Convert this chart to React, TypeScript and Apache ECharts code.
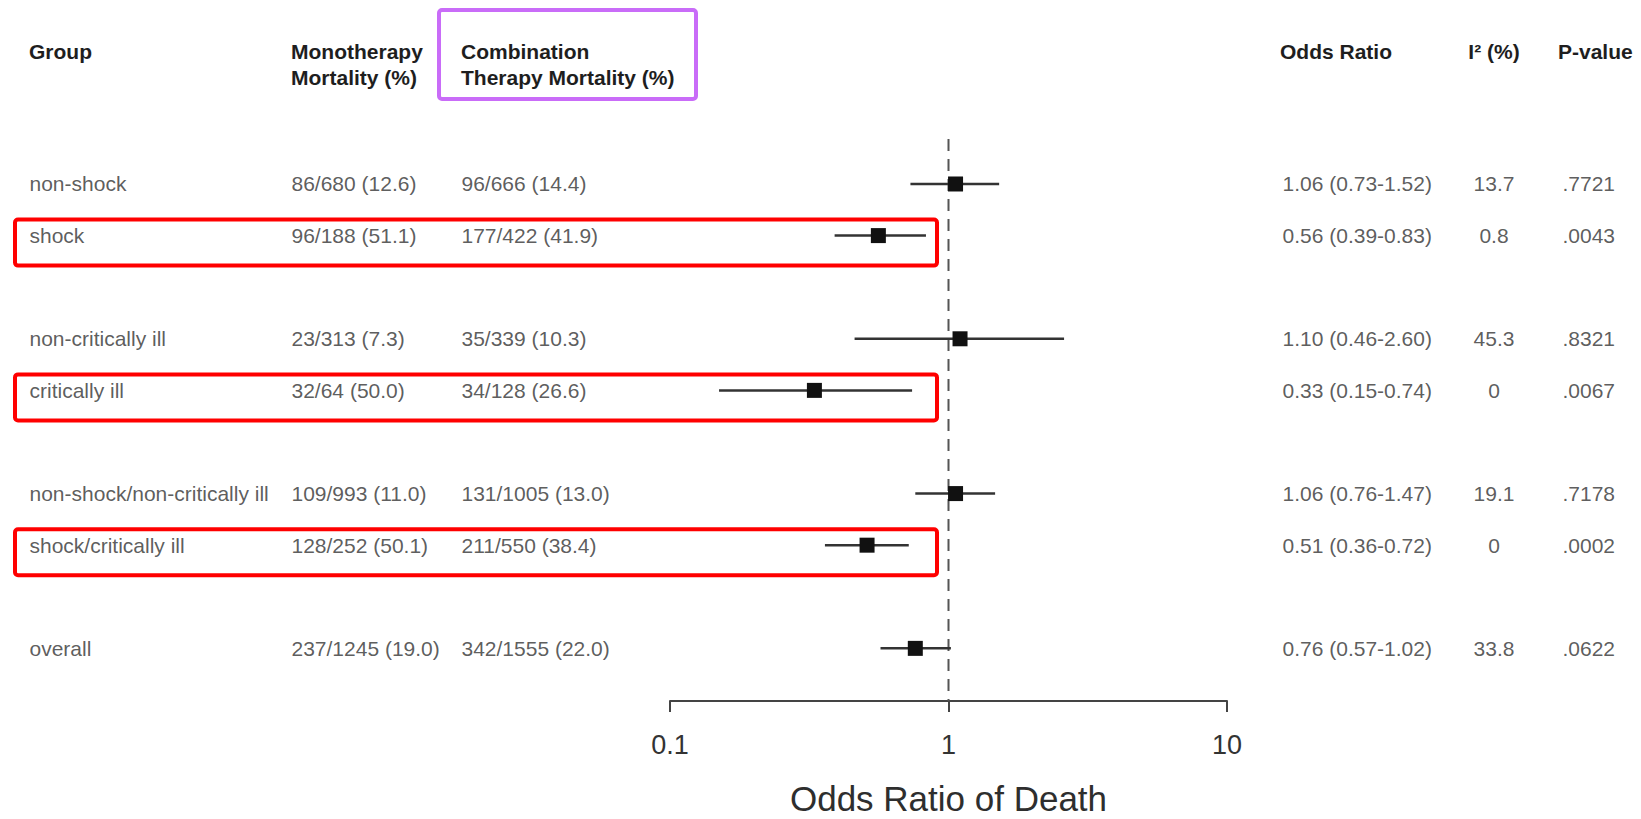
import React, { useEffect, useRef } from "react";
import * as echarts from "echarts";

// ---- data ----
const groups = [
  "non-shock",
  "shock",
  "non-critically ill",
  "critically ill",
  "non-shock/non-critically ill",
  "shock/critically ill",
  "overall",
];
const rowIndex = [0, 1, 3, 4, 6, 7, 9];
const monotherapy = [
  "86/680 (12.6)",
  "96/188 (51.1)",
  "23/313 (7.3)",
  "32/64 (50.0)",
  "109/993 (11.0)",
  "128/252 (50.1)",
  "237/1245 (19.0)",
];
const combination = [
  "96/666 (14.4)",
  "177/422 (41.9)",
  "35/339 (10.3)",
  "34/128 (26.6)",
  "131/1005 (13.0)",
  "211/550 (38.4)",
  "342/1555 (22.0)",
];
const oddsRatio = [1.06, 0.56, 1.1, 0.33, 1.06, 0.51, 0.76];
const ciLow = [0.73, 0.39, 0.46, 0.15, 0.76, 0.36, 0.57];
const ciHigh = [1.52, 0.83, 2.6, 0.74, 1.47, 0.72, 1.02];
const iSquared = ["13.7", "0.8", "45.3", "0", "19.1", "0", "33.8"];
const pValues = [".7721", ".0043", ".8321", ".0067", ".7178", ".0002", ".0622"];
const highlighted = [false, true, false, true, false, true, false];
const xTickLabels = [0.1, 1, 10];

const FONT = '"Liberation Sans", Arial, Helvetica, sans-serif';
const Y_MIN = -0.872;
const Y_MAX = 10.02;

function fmt(v: number) {
  return v.toFixed(2);
}

export default function App() {
  const ref = useRef<HTMLDivElement>(null);

  useEffect(() => {
    document.body.style.margin = "0";
    const chart = echarts.init(ref.current!, null, { renderer: "svg" });

    const textSeries = (x: number, texts: string[], align: "left" | "center") => ({
      type: "scatter",
      xAxisIndex: 1,
      yAxisIndex: 1,
      symbolSize: 1,
      silent: true,
      itemStyle: { color: "transparent" },
      data: rowIndex.map((k, i) => [x, k, texts[i]]),
      label: {
        show: true,
        position: align === "left" ? "right" : "inside",
        distance: 0,
        formatter: (p: any) => p.data[2],
        fontFamily: FONT,
        fontSize: 21,
        color: "#333",
      },
      z: 4,
    });

    const orTexts = oddsRatio.map(
      (v, i) => `${fmt(v)} (${fmt(ciLow[i])}-${fmt(ciHigh[i])})`
    );

    const headerStyle = {
      fontFamily: FONT,
      fontSize: 21,
      fontWeight: "bold",
      fill: "#1e1e1e",
    };
    const header = (x: number, y: number, text: string, align = "left") => ({
      type: "text",
      x,
      y,
      style: { ...headerStyle, text, align, verticalAlign: "middle" },
      silent: true,
    });

    chart.setOption({
      animation: false,
      backgroundColor: "#ffffff",
      grid: [
        { left: 670, right: 414, top: 139, bottom: 118, outerBoundsMode: "none", containLabel: false },
        { left: 0, right: 0, top: 139, bottom: 118, outerBoundsMode: "none", containLabel: false },
      ],
      xAxis: [
        {
          type: "log",
          logBase: 10,
          min: 0.1,
          max: 10,
          gridIndex: 0,
          position: "bottom",
          name: "Odds Ratio of Death",
          nameLocation: "middle",
          nameGap: 80,
          nameTextStyle: { fontFamily: FONT, fontSize: 35, color: "#2e2e2e" },
          axisLine: { show: true, onZero: false, lineStyle: { color: "#444", width: 2 } },
          axisTick: { show: true, inside: false, length: 11, lineStyle: { color: "#444", width: 2 } },
          axisLabel: {
            margin: 30,
            fontFamily: FONT,
            fontSize: 27,
            color: "#333",
            formatter: (v: number) => {
              const m = xTickLabels.find((t) => Math.abs(t - v) < 1e-9);
              return m === undefined ? "" : String(m);
            },
          },
          splitLine: { show: false },
        },
        {
          type: "value",
          gridIndex: 1,
          min: 0,
          max: 1641,
          show: false,
        },
      ],
      yAxis: [
        { type: "value", gridIndex: 0, min: Y_MIN, max: Y_MAX, inverse: true, show: false },
        { type: "value", gridIndex: 1, min: Y_MIN, max: Y_MAX, inverse: true, show: false },
      ],
      series: [
        {
          type: "line",
          xAxisIndex: 0,
          yAxisIndex: 0,
          symbol: "none",
          silent: true,
          data: [
            [1, Y_MIN],
            [1, Y_MAX],
          ],
          lineStyle: { color: "#555", width: 2, type: [12, 8] },
          z: 1,
        },
        {
          type: "custom",
          xAxisIndex: 0,
          yAxisIndex: 0,
          silent: true,
          encode: { x: [0, 1, 2], y: 3 },
          data: rowIndex.map((k, i) => [oddsRatio[i], ciLow[i], ciHigh[i], k]),
          renderItem: (params: any, api: any) => {
            const y = api.value(3);
            const lo = api.coord([api.value(1), y]);
            const hi = api.coord([api.value(2), y]);
            const c = api.coord([api.value(0), y]);
            const s = 15;
            return {
              type: "group",
              children: [
                {
                  type: "line",
                  shape: { x1: lo[0], y1: lo[1], x2: hi[0], y2: hi[1] },
                  style: { stroke: "#333", lineWidth: 2.5 },
                },
                {
                  type: "rect",
                  shape: { x: c[0] - s / 2, y: c[1] - s / 2, width: s, height: s },
                  style: { fill: "#111" },
                },
              ],
            };
          },
          z: 3,
        },
        textSeries(29, groups, "left"),
        textSeries(291, monotherapy, "left"),
        textSeries(461, combination, "left"),
        textSeries(1282, orTexts, "left"),
        textSeries(1494, iSquared, "center"),
        textSeries(1562, pValues, "left"),
      ],
    });

    // annotation boxes derived from the row positions
    const boxes: any[] = [];
    rowIndex.forEach((k, i) => {
      if (!highlighted[i]) return;
      const p = chart.convertToPixel({ yAxisIndex: 1 }, k) as number;
      boxes.push({
        type: "rect",
        shape: { x: 15, y: p - 16, width: 922, height: 46, r: 3 },
        style: { fill: "none", stroke: "#ff0000", lineWidth: 4 },
        silent: true,
        z: 10,
      });
    });

    chart.setOption({
      graphic: [
        header(29, 51, "Group"),
        header(291, 51, "Monotherapy"),
        header(291, 77, "Mortality (%)"),
        header(461, 51, "Combination"),
        header(461, 77, "Therapy Mortality (%)"),
        header(1280, 51, "Odds Ratio"),
        header(1494, 51, "I² (%)", "center"),
        header(1558, 51, "P-value"),
        {
          type: "rect",
          shape: { x: 439, y: 10, width: 257, height: 89, r: 3 },
          style: { fill: "none", stroke: "#c96cf8", lineWidth: 4 },
          silent: true,
          z: 10,
        },
        ...boxes,
      ],
    });

    return () => chart.dispose();
  }, []);

  return <div ref={ref} style={{ width: 1641, height: 819 }} />;
}
